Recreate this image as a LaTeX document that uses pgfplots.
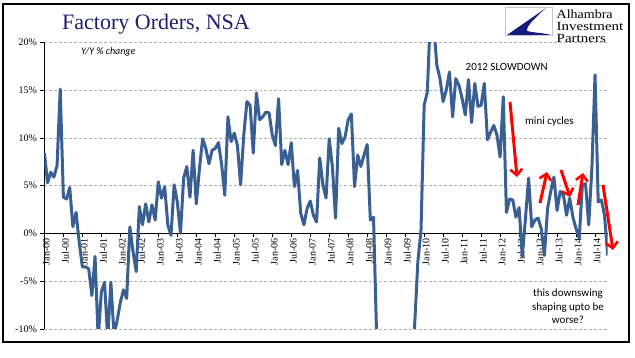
\documentclass[border=0pt]{standalone}
\usepackage{pgfplots}
\pgfplotsset{compat=1.18}
\usepackage{fontspec}
\setmainfont{Liberation Serif}
\newfontfamily\carlito{Carlito}
\usetikzlibrary{arrows.meta}
\definecolor{titlenavy}{RGB}{30,30,110}
\definecolor{logonavy}{RGB}{20,28,130}
\definecolor{linecol}{RGB}{58,95,146}
\begin{document}
\begin{tikzpicture}
\begin{axis}[
  at={(44.4pt,-329pt)}, anchor=south west,
  scale only axis, width=563.3pt, height=286.7pt,
  xmin=0, xmax=178, ymin=-10, ymax=20,
  axis x line*=middle, axis y line*=left,
  hide obscured x ticks=false, hide obscured y ticks=false,
  axis line style={black, line width=0.9pt},
  tick align=outside, major tick length=4pt,
  tick style={black, line width=0.7pt},
  xtick={0,6,...,174},
  xticklabels={Jan-00,Jul-00,Jan-01,Jul-01,Jan-02,Jul-02,Jan-03,Jul-03,Jan-04,Jul-04,Jan-05,Jul-05,Jan-06,Jul-06,Jan-07,Jul-07,Jan-08,Jul-08,Jan-09,Jul-09,Jan-10,Jul-10,Jan-11,Jul-11,Jan-12,Jul-12,Jan-13,Jul-13,Jan-14,Jul-14},
  xticklabel style={rotate=90, anchor=east, font=\fontsize{10}{10}\selectfont, inner sep=1pt, yshift=-2pt},
  ytick={-10,-5,0,5,10,15,20},
  yticklabels={-10\%,-5\%,0\%,5\%,10\%,15\%,20\%},
  yticklabel style={font=\fontsize{10}{10}\selectfont},
  ymajorgrids, grid style={densely dashed, gray!60, line width=0.5pt},
]
\addplot[color=linecol, line width=3pt, line join=round] table {
m v
0 8.4
1 5.3
2 6.4
3 5.9
4 7.1
5 15.1
6 3.8
7 3.6
8 4.8
9 0.7
10 2.2
11 -0.9
12 -3.5
13 -3.5
14 -3.7
15 -6.5
16 -2.4
17 -11
18 -6.1
19 -5.1
20 -11
21 -5.1
22 -10.6
23 -9.1
24 -7.2
25 -5.9
26 -6.8
27 0.7
28 -1.9
29 -4.0
30 2.8
31 0.9
32 3.1
33 1.2
34 3.0
35 1.4
36 5.4
37 3.7
38 4.9
39 0.9
40 -0.2
41 5.1
42 3.3
43 0.0
44 5.8
45 7.0
46 3.8
47 8.7
48 3.1
49 6.8
50 9.9
51 8.9
52 7.3
53 8.7
54 8.9
55 9.5
56 7.2
57 4.0
58 12.2
59 9.6
60 10.5
61 9.2
62 5.1
63 10.3
64 13.8
65 13.4
66 8.4
67 14.7
68 11.9
69 12.2
70 12.7
71 12.6
72 10.3
73 9.2
74 14.1
75 7.2
76 8.7
77 7.2
78 9.5
79 4.9
80 6.6
81 2.1
82 0.9
83 2.6
84 3.4
85 1.9
86 1.2
87 7.9
88 5.1
89 3.7
90 9.9
91 7.0
92 1.6
93 11.0
94 9.4
95 10.1
96 11.9
97 12.5
98 4.9
99 8.2
100 7.0
101 8.2
102 9.3
103 1.4
104 1.7
105 -11
106 -18
107 -23
108 -27
109 -30
110 -32
111 -31
112 -29
113 -27
114 -25
115 -22
116 -18
117 -9.6
118 -3.0
119 0.3
120 13.4
121 14.8
122 23
123 22
124 17.6
125 16.2
126 13.8
127 15.0
128 16.9
129 12.2
130 16.2
131 15.5
132 14.1
133 12.4
134 16.1
135 11.6
136 15.7
137 13.3
138 13.4
139 15.7
140 9.8
141 10.6
142 11.3
143 10.3
144 8.0
145 14.3
146 2.2
147 3.6
148 3.5
149 1.7
150 2.7
151 -2.4
152 1.5
153 5.8
154 0.7
155 1.4
156 1.6
157 0.5
158 -2.3
159 2.6
160 4.4
161 5.9
162 2.4
163 4.4
164 4.0
165 1.9
166 3.7
167 1.7
168 0.5
169 -0.5
170 5.1
171 5.2
172 0.9
173 6.8
174 16.6
175 3.3
176 3.5
177 1.9
178 -2.3
};
\end{axis}
\begin{scope}[x=1pt, y=-1pt]
\path[use as bounding box] (0,0) rectangle (635,358);
\draw[black, line width=1.2pt] (3,4) rectangle (629,342);
% title
\node[anchor=base west, inner sep=0pt, text=titlenavy, font=\fontsize{22}{22}\selectfont] at (62,30) {Factory Orders, NSA};
% logo
\draw[gray!45, line width=0.6pt, fill=white] (505,7) rectangle (552,35);
\fill[logonavy] (507,35) -- (546,8) .. controls (536,17) and (526,26) .. (527,31) .. controls (535,33) and (545,33) .. (551,35) -- cycle;
\node[anchor=base west, inner sep=0pt, font=\fontsize{12.5}{12.5}\selectfont, xscale=1.12] at (556.5,18.3) {Alhambra};
\node[anchor=base west, inner sep=0pt, font=\fontsize{12.5}{12.5}\selectfont, xscale=1.2] at (556.5,30.6) {Investment};
\node[anchor=base west, inner sep=0pt, font=\fontsize{12.5}{12.5}\selectfont, xscale=1.2] at (556.5,42.7) {Partners};
% annotations
\node[anchor=west, inner sep=0pt, font=\carlito\itshape\fontsize{10}{10}\selectfont] at (81,52) {Y/Y \% change};
\node[anchor=west, inner sep=0pt, font=\carlito\fontsize{11}{11}\selectfont] at (465.5,66.7) {2012 SLOWDOWN};
\node[anchor=west, inner sep=0pt, font=\carlito\fontsize{11}{11}\selectfont] at (525,121.7) {mini cycles};
\node[align=center, inner sep=0pt, font=\carlito\fontsize{11}{13.5}\selectfont] at (568,306.5) {this downswing\\shaping upto be\\worse?};
% arrows
\begin{scope}[red, line width=3pt, -{Straight Barb[length=6pt,width=12pt,line width=2.6pt]}]
\draw (510,102) -- (517,177);
\draw (540,203) -- (547,172);
\draw (561,170) -- (570,197);
\draw (578,205) -- (583,173);
\draw (603,185) -- (613,250);
\end{scope}
\end{scope}
\end{tikzpicture}
\end{document}
